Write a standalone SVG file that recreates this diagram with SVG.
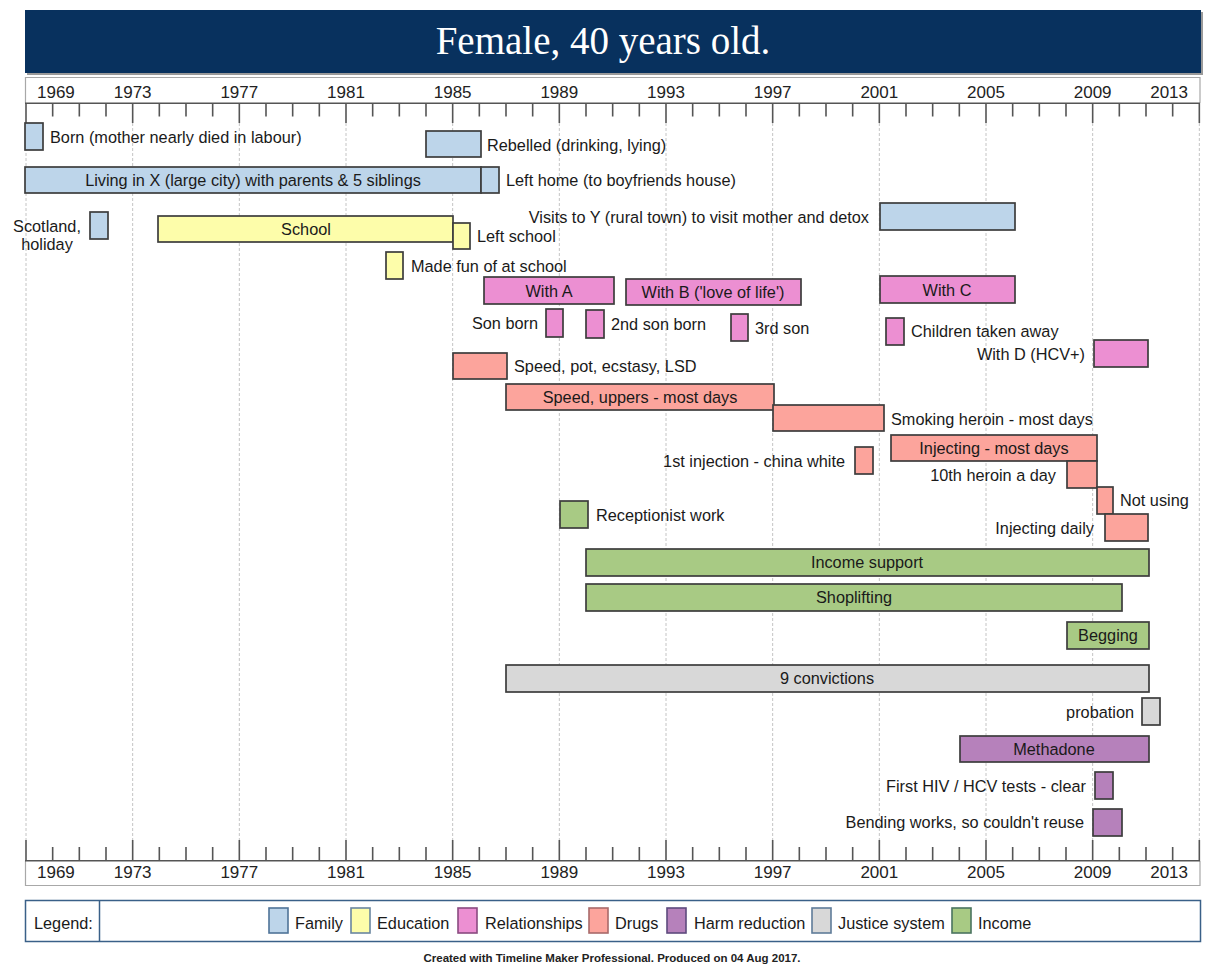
<svg xmlns="http://www.w3.org/2000/svg" width="1208" height="978" viewBox="0 0 1208 978">
<style>
text{font-family:"Liberation Sans",Arial,sans-serif;fill:#1a1a1a}
.lb{font-size:16.3px}
.c{text-anchor:middle}
.r{text-anchor:end}
.yr{font-size:17px;fill:#222}
.bar{stroke:#3d3d3d;stroke-width:1.7}
.fam{fill:#bdd5ea}.edu{fill:#fdfdaa}.rel{fill:#ec8fd2}.drg{fill:#fca49c}.har{fill:#b681bb}.jus{fill:#d8d8d8}.inc{fill:#a8ca84}
.grid{stroke:#c4c4c4;stroke-width:1;stroke-dasharray:3 2;fill:none}
.tick{stroke:#555;stroke-width:1.6;fill:none}
.frame{stroke:#a8a8a8;stroke-width:1.2;fill:none}
.sw{stroke-width:1.6}
</style>

<g id="title">
<rect x="27" y="12" width="1176" height="63" fill="#9a9a9a"/>
<rect x="25" y="10" width="1176" height="63" fill="#08315e"/>
<text x="603" y="54" style="font-family:'Liberation Serif','Times New Roman',serif;font-size:39px;fill:#fff;text-anchor:middle">Female, 40 years old.</text>
</g>

<g id="grid">
<path class="grid" d="M26 123V840M132.67 123V840M239.33 123V840M346 123V840M452.67 123V840M559.33 123V840M666 123V840M772.67 123V840M879.33 123V840M986 123V840M1092.67 123V840M1199.33 123V840"/>
</g>

<g id="top-axis">
<path class="frame" d="M25.5 103V77.5H1200V103"/>
<path d="M25 103.3H1200" stroke="#555" stroke-width="1.6"/>
<path class="tick" d="M26 103v20M132.67 103v20M239.33 103v20M346 103v20M452.67 103v20M559.33 103v20M666 103v20M772.67 103v20M879.33 103v20M986 103v20M1092.67 103v20M1199.33 103v20"/>
<path class="tick" d="M52.67 103v13.5M79.33 103v13.5M106 103v13.5M159.33 103v13.5M186 103v13.5M212.67 103v13.5M266 103v13.5M292.67 103v13.5M319.33 103v13.5M372.67 103v13.5M399.33 103v13.5M426 103v13.5M479.33 103v13.5M506 103v13.5M532.67 103v13.5M586 103v13.5M612.67 103v13.5M639.33 103v13.5M692.67 103v13.5M719.33 103v13.5M746 103v13.5M799.33 103v13.5M826 103v13.5M852.67 103v13.5M906 103v13.5M932.67 103v13.5M959.33 103v13.5M1012.67 103v13.5M1039.33 103v13.5M1066 103v13.5M1119.33 103v13.5M1146 103v13.5M1172.67 103v13.5"/>
<text class="yr" x="37" y="97.5">1969</text>
<text class="yr c" x="132.67" y="97.5">1973</text>
<text class="yr c" x="239.33" y="97.5">1977</text>
<text class="yr c" x="346" y="97.5">1981</text>
<text class="yr c" x="452.67" y="97.5">1985</text>
<text class="yr c" x="559.33" y="97.5">1989</text>
<text class="yr c" x="666" y="97.5">1993</text>
<text class="yr c" x="772.67" y="97.5">1997</text>
<text class="yr c" x="879.33" y="97.5">2001</text>
<text class="yr c" x="986" y="97.5">2005</text>
<text class="yr c" x="1092.67" y="97.5">2009</text>
<text class="yr r" x="1188" y="97.5">2013</text>
</g>

<g id="bottom-axis">
<path class="frame" d="M25.5 861V885.5H1200V861"/>
<path d="M25 860.7H1200" stroke="#555" stroke-width="1.6"/>
<path class="tick" d="M26 861v-21M132.67 861v-21M239.33 861v-21M346 861v-21M452.67 861v-21M559.33 861v-21M666 861v-21M772.67 861v-21M879.33 861v-21M986 861v-21M1092.67 861v-21M1199.33 861v-21"/>
<path class="tick" d="M52.67 861v-14M79.33 861v-14M106 861v-14M159.33 861v-14M186 861v-14M212.67 861v-14M266 861v-14M292.67 861v-14M319.33 861v-14M372.67 861v-14M399.33 861v-14M426 861v-14M479.33 861v-14M506 861v-14M532.67 861v-14M586 861v-14M612.67 861v-14M639.33 861v-14M692.67 861v-14M719.33 861v-14M746 861v-14M799.33 861v-14M826 861v-14M852.67 861v-14M906 861v-14M932.67 861v-14M959.33 861v-14M1012.67 861v-14M1039.33 861v-14M1066 861v-14M1119.33 861v-14M1146 861v-14M1172.67 861v-14"/>
<text class="yr" x="37" y="878">1969</text>
<text class="yr c" x="132.67" y="878">1973</text>
<text class="yr c" x="239.33" y="878">1977</text>
<text class="yr c" x="346" y="878">1981</text>
<text class="yr c" x="452.67" y="878">1985</text>
<text class="yr c" x="559.33" y="878">1989</text>
<text class="yr c" x="666" y="878">1993</text>
<text class="yr c" x="772.67" y="878">1997</text>
<text class="yr c" x="879.33" y="878">2001</text>
<text class="yr c" x="986" y="878">2005</text>
<text class="yr c" x="1092.67" y="878">2009</text>
<text class="yr r" x="1188" y="878">2013</text>
</g>

<g id="connectors"></g>

<g id="born"><rect class="bar fam" x="25" y="123" width="18" height="27"/><text class="lb" x="50" y="143">Born (mother nearly died in labour)</text></g>
<g id="rebelled"><rect class="bar fam" x="426" y="131" width="55" height="26"/><text class="lb" x="487" y="151">Rebelled (drinking, lying)</text></g>
<g id="living"><rect class="bar fam" x="25" y="167" width="456" height="26"/><text class="lb c" x="253" y="186">Living in X (large city) with parents &amp; 5 siblings</text></g>
<g id="left-home"><rect class="bar fam" x="481" y="167" width="18" height="26"/><text class="lb" x="506" y="186">Left home (to boyfriends house)</text></g>
<g id="visits"><rect class="bar fam" x="880" y="203" width="135" height="27"/><text class="lb r" x="869" y="223">Visits to Y (rural town) to visit mother and detox</text></g>
<g id="scotland"><rect class="bar fam" x="90" y="212" width="18" height="27"/><text class="lb c" x="47" y="232">Scotland,</text><text class="lb c" x="47" y="250">holiday</text></g>

<g id="school"><rect class="bar edu" x="158" y="216" width="295" height="26"/><text class="lb c" x="306" y="235">School</text></g>
<g id="left-school"><rect class="bar edu" x="453" y="223" width="17" height="26"/><text class="lb" x="477" y="242">Left school</text></g>
<g id="made-fun"><rect class="bar edu" x="386" y="252" width="17" height="27"/><text class="lb" x="411" y="272">Made fun of at school</text></g>

<g id="with-a"><rect class="bar rel" x="484" y="277" width="130" height="27"/><text class="lb c" x="549" y="297">With A</text></g>
<g id="with-b"><rect class="bar rel" x="626" y="279" width="175" height="26"/><text class="lb c" x="713" y="298">With B ('love of life')</text></g>
<g id="with-c"><rect class="bar rel" x="880" y="276" width="135" height="27"/><text class="lb c" x="947" y="296">With C</text></g>
<g id="son-born"><rect class="bar rel" x="546" y="309" width="17" height="28"/><text class="lb r" x="538" y="329">Son born</text></g>
<g id="second-son"><rect class="bar rel" x="586" y="310" width="18" height="28"/><text class="lb" x="611" y="330">2nd son born</text></g>
<g id="third-son"><rect class="bar rel" x="731" y="314" width="17" height="27"/><text class="lb" x="755" y="334">3rd son</text></g>
<g id="children-taken"><rect class="bar rel" x="886" y="318" width="18" height="27"/><text class="lb" x="911" y="337">Children taken away</text></g>
<g id="with-d"><rect class="bar rel" x="1094" y="340" width="54" height="27"/><text class="lb r" x="1085" y="360">With D (HCV+)</text></g>

<g id="speed-pot"><rect class="bar drg" x="453" y="353" width="54" height="26"/><text class="lb" x="514" y="372">Speed, pot, ecstasy, LSD</text></g>
<g id="speed-uppers"><rect class="bar drg" x="506" y="384" width="268" height="26"/><text class="lb c" x="640" y="403">Speed, uppers - most days</text></g>
<g id="smoking-heroin"><rect class="bar drg" x="773" y="405" width="111" height="26"/><text class="lb" x="891" y="425">Smoking heroin - most days</text></g>
<g id="injecting-most"><rect class="bar drg" x="891" y="435" width="206" height="26"/><text class="lb c" x="994" y="454">Injecting - most days</text></g>
<g id="first-injection"><rect class="bar drg" x="855" y="447" width="18" height="27"/><text class="lb r" x="845" y="467">1st injection - china white</text></g>
<g id="tenth-heroin"><rect class="bar drg" x="1067" y="461" width="30" height="27"/><text class="lb r" x="1056" y="481">10th heroin a day</text></g>
<g id="not-using"><rect class="bar drg" x="1097" y="487" width="16" height="27"/><text class="lb" x="1120" y="506">Not using</text></g>
<g id="injecting-daily"><rect class="bar drg" x="1105" y="514" width="43" height="27"/><text class="lb r" x="1094" y="534">Injecting daily</text></g>

<g id="receptionist"><rect class="bar inc" x="560" y="501" width="28" height="27"/><text class="lb" x="596" y="521">Receptionist work</text></g>
<g id="income-support"><rect class="bar inc" x="586" y="549" width="563" height="27"/><text class="lb c" x="867" y="568">Income support</text></g>
<g id="shoplifting"><rect class="bar inc" x="586" y="584" width="536" height="27"/><text class="lb c" x="854" y="603">Shoplifting</text></g>
<g id="begging"><rect class="bar inc" x="1067" y="622" width="82" height="27"/><text class="lb c" x="1108" y="641">Begging</text></g>

<g id="convictions"><rect class="bar jus" x="506" y="665" width="643" height="27"/><text class="lb c" x="827" y="684">9 convictions</text></g>
<g id="probation"><rect class="bar jus" x="1142" y="698" width="18" height="27"/><text class="lb r" x="1134" y="718">probation</text></g>

<g id="methadone"><rect class="bar har" x="960" y="736" width="189" height="26"/><text class="lb c" x="1054" y="755">Methadone</text></g>
<g id="hiv-tests"><rect class="bar har" x="1095" y="772" width="18" height="27"/><text class="lb r" x="1086" y="792">First HIV / HCV tests - clear</text></g>
<g id="bending"><rect class="bar har" x="1093" y="809" width="29" height="27"/><text class="lb r" x="1084" y="828">Bending works, so couldn't reuse</text></g>

<g id="legend">
<rect x="25.5" y="900.5" width="1175" height="41" fill="#fff" stroke="#3a6088" stroke-width="1.5"/>
<path d="M99.5 900.5V941.5" stroke="#3a6088" stroke-width="1.5"/>
<text class="lb" x="34" y="929">Legend:</text>
<rect class="sw fam" x="269" y="908" width="19" height="25" stroke="#4f7398"/><text class="lb" x="295" y="929">Family</text>
<rect class="sw edu" x="351" y="908" width="19" height="25" stroke="#6a86a0"/><text class="lb" x="377" y="929">Education</text>
<rect class="sw rel" x="458" y="908" width="19" height="25" stroke="#8a4a80"/><text class="lb" x="485" y="929">Relationships</text>
<rect class="sw drg" x="589" y="908" width="19" height="25" stroke="#a86a6a"/><text class="lb" x="615" y="929">Drugs</text>
<rect class="sw har" x="667" y="908" width="19" height="25" stroke="#5e4a7e"/><text class="lb" x="694" y="929">Harm reduction</text>
<rect class="sw jus" x="812" y="908" width="19" height="25" stroke="#5f7c99"/><text class="lb" x="838" y="929">Justice system</text>
<rect class="sw inc" x="952" y="908" width="19" height="25" stroke="#4a7460"/><text class="lb" x="978" y="929">Income</text>
</g>

<g id="footer">
<text x="612" y="962" style="font-size:11.5px;font-weight:bold;text-anchor:middle;fill:#222">Created with Timeline Maker Professional. Produced on 04 Aug 2017.</text>
</g>
</svg>
